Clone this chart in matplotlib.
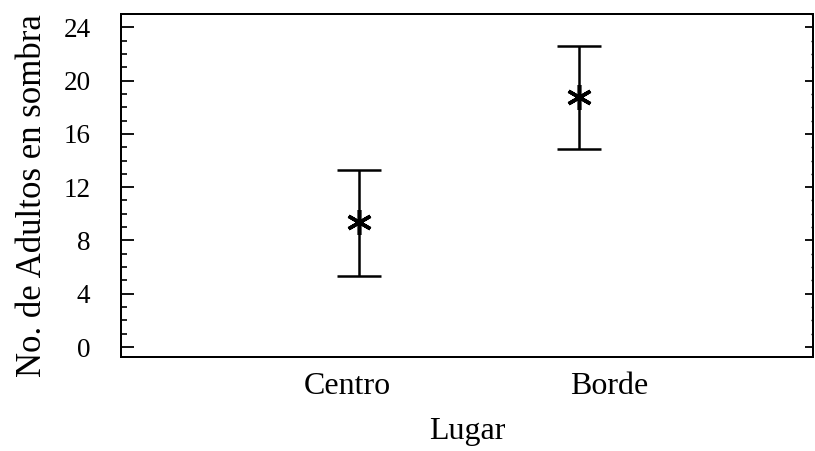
import numpy as np
import matplotlib
matplotlib.use('Agg')
import matplotlib.pyplot as plt
from matplotlib.ticker import MultipleLocator

plt.rcParams['font.family'] = ['Liberation Serif', 'DejaVu Serif']

# means and interval limits per site
lugares = ['Centro', 'Borde']
x_pos = [1.0, 2.0]
label_pos = [0.945, 2.136]
medias = [9.35, 18.75]
sup = [13.3, 22.6]
inf = [5.3, 14.85]

medias = np.array(medias)
err = np.array([medias - np.array(inf), np.array(sup) - medias])

fig = plt.figure(figsize=(8.15, 4.51), dpi=100)
ax = fig.add_axes([121/815, 1 - 357/451, 692/815, 343/451])

ax.errorbar(x_pos, medias, yerr=err, fmt='none', ecolor='black',
            elinewidth=1.8, capsize=15.5, capthick=1.8)
ax.plot(x_pos, medias, linestyle='none', marker=(6, 2, 0), markersize=18,
        markeredgewidth=2.6, color='black')

ax.set_xlim(-0.082, 3.064)
ax.set_ylim(-0.75, 25.0)
ax.set_xticks(label_pos)
ax.set_xticklabels(lugares, fontsize=23)
ax.tick_params(axis='x', length=0, pad=11)

ax.yaxis.set_major_locator(MultipleLocator(4))
ax.yaxis.set_minor_locator(MultipleLocator(1))
ax.tick_params(axis='y', which='major', direction='in', length=9.5, width=1.3,
               labelsize=19.5, pad=22)
ax.tick_params(axis='y', which='minor', direction='in', length=4.5, width=1.2)

# right-hand axis ticks are shorter and unlabeled
ax2 = ax.twinx()
ax2.set_ylim(ax.get_ylim())
ax2.yaxis.set_major_locator(MultipleLocator(4))
ax2.yaxis.set_minor_locator(MultipleLocator(1))
ax2.tick_params(axis='y', which='major', direction='in', length=5.5, width=1.3, labelright=False)
ax2.tick_params(axis='y', which='minor', direction='in', length=1.8, width=1.0)

for a in (ax, ax2):
    for s in a.spines.values():
        s.set_linewidth(1.4)

ax.set_xlabel('Lugar', fontsize=23)
ax.xaxis.set_label_coords(0.5, -0.175)
ax.set_ylabel('No. de Adultos en sombra', fontsize=25, va='center')
ax.yaxis.set_label_coords(-0.128, 0.472)

fig.savefig('out.png', dpi=100)
